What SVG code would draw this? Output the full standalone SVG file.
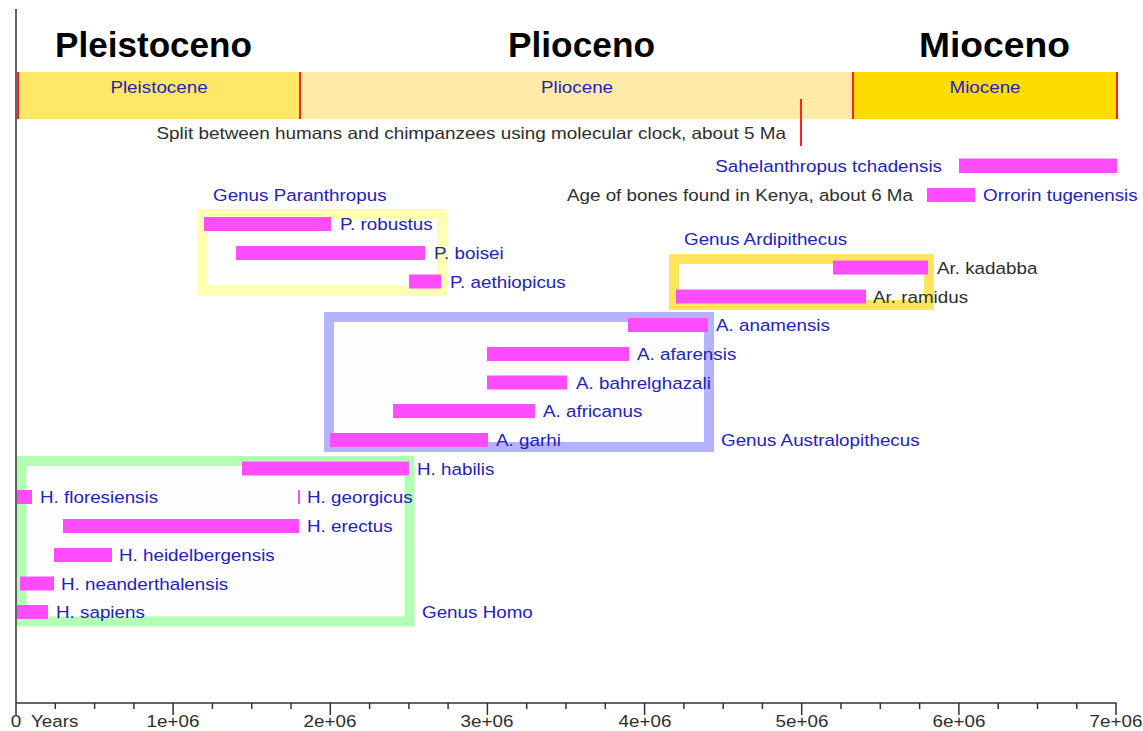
<svg xmlns="http://www.w3.org/2000/svg" width="1143" height="731" viewBox="0 0 1143 731">
<style>
.t{font-family:"Liberation Sans",Arial,Helvetica,sans-serif;font-size:16.5px}
.b{fill:#2222BC}
.g{fill:#2E2E2E}
.ttl{font-family:"Liberation Sans",Arial,sans-serif;font-weight:bold;font-size:35px;fill:#000}
.bar{fill:#FF4CFF}
.box{fill:#FEFEFF;stroke-width:10}
.red{stroke:#FF2222;stroke-width:2}
.ax{stroke:#333;stroke-width:1.5;fill:none}
</style>
<rect width="1143" height="731" fill="#fff"/>
<g id="titles">
<text class="ttl" x="55" y="57" textLength="197" lengthAdjust="spacingAndGlyphs">Pleistoceno</text>
<text class="ttl" x="508" y="57" textLength="147" lengthAdjust="spacingAndGlyphs">Plioceno</text>
<text class="ttl" x="919" y="57" textLength="151" lengthAdjust="spacingAndGlyphs">Mioceno</text>
</g>
<g id="epochs">
<rect x="18" y="72" width="282" height="47" fill="#FFE866"/>
<rect x="300" y="72" width="553" height="47" fill="#FFEAA8"/>
<rect x="853" y="72" width="264" height="47" fill="#FFDC00"/>
<line class="red" x1="18" y1="72" x2="18" y2="119"/>
<line class="red" x1="300" y1="72" x2="300" y2="119"/>
<line class="red" x1="853" y1="72" x2="853" y2="119"/>
<line class="red" x1="1117" y1="72" x2="1117" y2="119"/>
<text class="t b" text-anchor="middle" transform="translate(159,93) scale(1.14,1)">Pleistocene</text>
<text class="t b" text-anchor="middle" transform="translate(577,93) scale(1.14,1)">Pliocene</text>
<text class="t b" text-anchor="middle" transform="translate(985,93) scale(1.14,1)">Miocene</text>
</g>
<g id="split">
<line class="red" x1="801" y1="99" x2="801" y2="146"/>
<text class="t g" text-anchor="end" transform="translate(786,139) scale(1.145,1)">Split between humans and chimpanzees using molecular clock, about 5 Ma</text>
</g>
<g id="genus-boxes">
<rect id="box-paranthropus" class="box" x="203" y="214" width="239" height="77" stroke="#FFFFB3"/>
<rect id="box-ardipithecus" class="box" x="674" y="259" width="255" height="46" stroke="#FFE45E"/>
<rect id="box-australopithecus" class="box" x="329" y="317" width="380" height="130" stroke="#B3B3FF"/>
<rect id="box-homo" class="box" x="21.5" y="461" width="388" height="160.5" stroke="#B3FFB3" stroke-width="9"/>
</g>
<g id="axes">
<line class="ax" x1="16" y1="9" x2="16" y2="703"/>
<line class="ax" x1="16" y1="703" x2="1116.5" y2="703"/>
<path class="ax" d="M16 703v12M173.1 703v12M330.3 703v12M487.4 703v12M644.6 703v12M801.7 703v12M958.9 703v12M1116 703v12
M55.3 703v6M94.6 703v6M133.9 703v6M212.4 703v6M251.7 703v6M291 703v6M369.6 703v6M408.9 703v6M448.1 703v6M526.7 703v6M566 703v6M605.3 703v6M683.9 703v6M723.2 703v6M762.4 703v6M841 703v6M880.3 703v6M919.6 703v6M998.2 703v6M1037.5 703v6M1076.8 703v6"/>
<text class="t g" text-anchor="middle" transform="translate(16,727) scale(1.14,1)">0</text>
<text class="t g" transform="translate(31,727) scale(1.14,1)">Years</text>
<text class="t g" text-anchor="middle" transform="translate(173,727) scale(1.14,1)">1e+06</text>
<text class="t g" text-anchor="middle" transform="translate(330,727) scale(1.14,1)">2e+06</text>
<text class="t g" text-anchor="middle" transform="translate(487,727) scale(1.14,1)">3e+06</text>
<text class="t g" text-anchor="middle" transform="translate(645,727) scale(1.14,1)">4e+06</text>
<text class="t g" text-anchor="middle" transform="translate(802,727) scale(1.14,1)">5e+06</text>
<text class="t g" text-anchor="middle" transform="translate(959,727) scale(1.14,1)">6e+06</text>
<text class="t g" text-anchor="middle" transform="translate(1116,727) scale(1.14,1)">7e+06</text>
</g>
<g id="sahelanthropus">
<rect class="bar" x="959" y="158.5" width="158" height="14.5"/>
<text class="t b" text-anchor="end" transform="translate(942,171.5) scale(1.14,1)">Sahelanthropus tchadensis</text>
</g>
<g id="orrorin">
<rect class="bar" x="927" y="188" width="48" height="14"/>
<text class="t g" text-anchor="end" transform="translate(913,201) scale(1.14,1)">Age of bones found in Kenya, about 6 Ma</text>
<text class="t b" transform="translate(983,201) scale(1.14,1)">Orrorin tugenensis</text>
</g>
<g id="paranthropus">
<text class="t b" transform="translate(213,201) scale(1.14,1)">Genus Paranthropus</text>
<rect class="bar" x="204" y="217" width="127" height="14"/>
<text class="t b" transform="translate(340,230) scale(1.14,1)">P. robustus</text>
<rect class="bar" x="236" y="246" width="189" height="14"/>
<text class="t b" transform="translate(434,259) scale(1.14,1)">P. boisei</text>
<rect class="bar" x="409" y="274.5" width="32" height="14"/>
<text class="t b" transform="translate(450,288) scale(1.14,1)">P. aethiopicus</text>
</g>
<g id="ardipithecus">
<text class="t b" transform="translate(684,245) scale(1.14,1)">Genus Ardipithecus</text>
<rect class="bar" x="833" y="260.5" width="95" height="14"/>
<text class="t g" transform="translate(937,274) scale(1.14,1)">Ar. kadabba</text>
<rect class="bar" x="676" y="289.5" width="190" height="14"/>
<text class="t g" transform="translate(873,302.5) scale(1.14,1)">Ar. ramidus</text>
</g>
<g id="australopithecus">
<rect class="bar" x="628" y="318" width="80" height="14"/>
<text class="t b" transform="translate(716,331) scale(1.14,1)">A. anamensis</text>
<rect class="bar" x="487" y="347" width="142" height="14"/>
<text class="t b" transform="translate(637,360) scale(1.14,1)">A. afarensis</text>
<rect class="bar" x="487" y="375.5" width="80" height="14"/>
<text class="t b" transform="translate(576,388.5) scale(1.14,1)">A. bahrelghazali</text>
<rect class="bar" x="393" y="404" width="142" height="14"/>
<text class="t b" transform="translate(543,417) scale(1.14,1)">A. africanus</text>
<rect class="bar" x="330" y="433" width="158" height="14"/>
<text class="t b" transform="translate(496,446) scale(1.14,1)">A. garhi</text>
<text class="t b" transform="translate(721,446) scale(1.14,1)">Genus Australopithecus</text>
</g>
<g id="homo">
<rect class="bar" x="242" y="461.5" width="167" height="14"/>
<text class="t b" transform="translate(417,474.5) scale(1.14,1)">H. habilis</text>
<rect class="bar" x="17" y="490" width="15" height="14"/>
<text class="t b" transform="translate(40,503) scale(1.14,1)">H. floresiensis</text>
<rect class="bar" x="298" y="490" width="2" height="14"/>
<text class="t b" transform="translate(307,503) scale(1.14,1)">H. georgicus</text>
<rect class="bar" x="63" y="519" width="236" height="14"/>
<text class="t b" transform="translate(307,532) scale(1.14,1)">H. erectus</text>
<rect class="bar" x="54" y="548" width="58" height="14"/>
<text class="t b" transform="translate(119,561) scale(1.14,1)">H. heidelbergensis</text>
<rect class="bar" x="20" y="576.5" width="34" height="14"/>
<text class="t b" transform="translate(61,589.5) scale(1.14,1)">H. neanderthalensis</text>
<rect class="bar" x="17" y="605" width="31" height="14"/>
<text class="t b" transform="translate(56,618) scale(1.14,1)">H. sapiens</text>
<text class="t b" transform="translate(422,618) scale(1.14,1)">Genus Homo</text>
</g>
</svg>
